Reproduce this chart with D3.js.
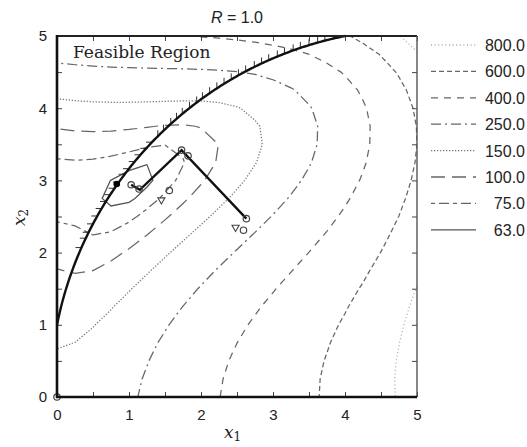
<!DOCTYPE html>
<html>
<head>
<meta charset="utf-8">
<script src="https://cdn.jsdelivr.net/npm/d3@7"></script>
<style>
  body { margin: 0; background: #fff; }
  text { font-family: "Liberation Sans", Arial, sans-serif; fill: #222; }
</style>
</head>
<body>
<div id="chart"></div>
<script>
// contour levels, top to bottom as in the legend
var levels = [800, 600, 400, 250, 150, 100, 75, 63]
var levelLabels = ["800.0", "600.0", "400.0", "250.0", "150.0", "100.0", "75.0", "63.0"]

// penalty parameter and the constraint (x1 - 5)^2 + x2^2 >= 26
var R = 1.0
var circleCx = 5
var circleR2 = 26

// search path
var pathX1 = [2.63, 1.73, 1.15, 1.03]
var pathX2 = [2.47, 3.42, 2.87, 2.94]

// open circle markers
var circX1 = [2.63, 2.59, 1.73, 1.82, 1.03, 1.14, 1.56, 0]
var circX2 = [2.47, 2.31, 3.42, 3.34, 2.94, 2.88, 2.86, 0]

// small triangle markers
var triX1 = [2.48, 1.45]
var triX2 = [2.35, 2.73]

// constrained optimum (filled)
var optX1 = [0.83]
var optX2 = [2.95]

var tickValues = [0, 1, 2, 3, 4, 5]

// line styles per level (same order as levels)
var levelDash = ["1,2.6", "5,3", "7,6", "10,4,2,4", "1.3,1.7", "14,7", "4,4,10,4", null]
var levelColor = ["#a8a8a8", "#666", "#666", "#666", "#777", "#666", "#666", "#555"]

var svgWidth = 527
var svgHeight = 447
var margin = { top: 36, left: 57 }
var width = 360
var height = 361

var svg = d3.select("#chart")
  .append("svg")
  .attr("width", svgWidth)
  .attr("height", svgHeight)

var x = d3.scaleLinear().domain([0, 5]).range([margin.left, margin.left + width])
var y = d3.scaleLinear().domain([0, 5]).range([margin.top + height, margin.top])

svg.append("clipPath").attr("id", "plotClip")
  .append("rect")
  .attr("x", margin.left).attr("y", margin.top)
  .attr("width", width).attr("height", height)

// penalized Himmelblau function with bracket operator
function penalty(x1, x2) {
  var f = Math.pow(x1 * x1 + x2 - 11, 2) + Math.pow(x1 + x2 * x2 - 7, 2)
  var g = (x1 - circleCx) * (x1 - circleCx) + x2 * x2 - circleR2
  return f + (g < 0 ? R * g * g : 0)
}

// sample grid a bit wider than the plot so ring borders get clipped away
var step = 0.25
var g0 = -0.5
var n = 25
var values = []
for (var j = 0; j < n; j++) {
  for (var i = 0; i < n; i++) {
    values.push(penalty(g0 + i * step, g0 + j * step))
  }
}

var contours = d3.contours().size([n, n]).thresholds(levels)(values)

var ringLine = d3.line()
  .x(c => x(g0 + (c[0] - 0.5) * step))
  .y(c => y(g0 + (c[1] - 0.5) * step))

var contourGroup = svg.append("g").attr("clip-path", "url(#plotClip)")

contours.forEach(function(c) {
  var k = levels.indexOf(c.value)
  c.coordinates.forEach(function(poly) {
    poly.forEach(function(ring) {
      contourGroup.append("path")
        .attr("d", ringLine(ring))
        .attr("fill", "none")
        .attr("stroke", levelColor[k])
        .attr("stroke-width", 1.25)
        .attr("stroke-dasharray", levelDash[k])
    })
  })
})

// constraint boundary
var bound = d3.range(0, 4.0001, 0.02).map(function(t) {
  return [t, Math.sqrt(circleR2 - (t - circleCx) * (t - circleCx))]
})

// hatch marks on the feasible side
var pix = bound.map(p => [x(p[0]), y(p[1])])
var hatch = []
var acc = 0
var next = 4
for (var k = pix.length - 1; k > 0; k--) {
  var dx = pix[k][0] - pix[k - 1][0]
  var dy = pix[k][1] - pix[k - 1][1]
  acc += Math.sqrt(dx * dx + dy * dy)
  if (acc >= next && bound[k][1] > 2.0) {
    var slope = (circleCx - bound[k][0]) / bound[k][1]
    hatch.push({ px: pix[k][0], py: pix[k][1], vertical: slope < 1 })
    next += 8.5
  }
}

svg.append("g")
  .selectAll("line")
  .data(hatch)
  .enter()
  .append("line")
  .attr("x1", d => d.px)
  .attr("y1", d => d.py)
  .attr("x2", d => d.vertical ? d.px : d.px - 6)
  .attr("y2", d => d.vertical ? Math.max(d.py - 6, margin.top + 1) : d.py)
  .attr("stroke", "#333")
  .attr("stroke-width", 1)

svg.append("path")
  .attr("d", d3.line().x(p => x(p[0])).y(p => y(p[1]))(bound))
  .attr("fill", "none")
  .attr("stroke", "#111")
  .attr("stroke-width", 2.4)

// search path
var pathPts = pathX1.map((v, i) => [v, pathX2[i]])
svg.append("path")
  .attr("d", d3.line().x(p => x(p[0])).y(p => y(p[1]))(pathPts))
  .attr("fill", "none")
  .attr("stroke", "#111")
  .attr("stroke-width", 2.4)

svg.append("g")
  .selectAll("circle")
  .data(circX1.map((v, i) => [v, circX2[i]]))
  .enter()
  .append("circle")
  .attr("cx", d => x(d[0]))
  .attr("cy", d => y(d[1]))
  .attr("r", 3.2)
  .attr("fill", "none")
  .attr("stroke", "#444")
  .attr("stroke-width", 1.2)

var tri = d3.symbol().type(d3.symbolTriangle).size(22)
svg.append("g")
  .selectAll("path")
  .data(triX1.map((v, i) => [v, triX2[i]]))
  .enter()
  .append("path")
  .attr("d", tri)
  .attr("transform", d => `translate(${x(d[0])}, ${y(d[1])}) rotate(180)`)
  .attr("fill", "none")
  .attr("stroke", "#444")
  .attr("stroke-width", 1.1)

svg.append("g")
  .selectAll("circle")
  .data(optX1.map((v, i) => [v, optX2[i]]))
  .enter()
  .append("circle")
  .attr("cx", d => x(d[0]))
  .attr("cy", d => y(d[1]))
  .attr("r", 3.3)
  .attr("fill", "#000")

// axes, ticks pointing inward
var halfTicks = d3.range(0, 5.01, 0.5)
function fmt(d) { return d % 1 === 0 ? d : "" }

var bottomAxis = svg.append("g")
  .attr("transform", `translate(0, ${margin.top + height})`)
  .call(d3.axisBottom(x).tickValues(halfTicks).tickSize(-5).tickPadding(12).tickFormat(fmt))
var leftAxis = svg.append("g")
  .attr("transform", `translate(${margin.left}, 0)`)
  .call(d3.axisLeft(y).tickValues(halfTicks).tickSize(-5).tickPadding(10).tickFormat(fmt))
var topAxis = svg.append("g")
  .attr("transform", `translate(0, ${margin.top})`)
  .call(d3.axisTop(x).tickValues(halfTicks).tickSize(-5).tickFormat(""))
var rightAxis = svg.append("g")
  .attr("transform", `translate(${margin.left + width}, 0)`)
  .call(d3.axisRight(y).tickValues(halfTicks).tickSize(-5).tickFormat(""))

svg.selectAll(".domain").remove()
svg.selectAll(".tick line").attr("stroke", "#444")
svg.selectAll(".tick text")
  .style("font-family", "'Liberation Sans', Arial, sans-serif")
  .style("font-size", "15px")
  .attr("fill", "#333")

// frame
var L = margin.left, T = margin.top, Rr = margin.left + width, B = margin.top + height
svg.append("line").attr("x1", L).attr("x2", Rr).attr("y1", T).attr("y2", T)
  .attr("stroke", "#222").attr("stroke-width", 2)
svg.append("line").attr("x1", Rr).attr("x2", Rr).attr("y1", T).attr("y2", B)
  .attr("stroke", "#555").attr("stroke-width", 1.4)
svg.append("line").attr("x1", L).attr("x2", L).attr("y1", T - 1).attr("y2", B + 1)
  .attr("stroke", "#111").attr("stroke-width", 2.6)
svg.append("line").attr("x1", L - 1).attr("x2", Rr).attr("y1", B).attr("y2", B)
  .attr("stroke", "#111").attr("stroke-width", 2.6)

// title
var title = svg.append("text")
  .attr("x", 237)
  .attr("y", 23)
  .attr("text-anchor", "middle")
  .style("font-size", "16px")
title.append("tspan").style("font-style", "italic").text("R")
title.append("tspan").text(" = 1.0")

svg.append("text")
  .attr("x", 73)
  .attr("y", 58)
  .style("font-family", "'DejaVu Serif', serif")
  .style("font-size", "17px")
  .attr("fill", "#333")
  .text("Feasible Region")

// axis titles
var xl = svg.append("text")
  .attr("x", 224)
  .attr("y", 438)
  .style("font-family", "'DejaVu Serif', serif")
  .style("font-size", "17px")
xl.append("tspan").style("font-style", "italic").text("x")
xl.append("tspan").attr("dy", 3).style("font-size", "12px").text("1")

var yl = svg.append("text")
  .attr("transform", "translate(25, 226) rotate(-90)")
  .style("font-family", "'DejaVu Serif', serif")
  .style("font-size", "17px")
yl.append("tspan").style("font-style", "italic").text("x")
yl.append("tspan").attr("dy", 3).style("font-size", "12px").text("2")

// legend
var legend = svg.append("g")
levels.forEach(function(v, i) {
  var ly = 45 + i * 26.4
  legend.append("line")
    .attr("x1", 431).attr("x2", 476)
    .attr("y1", ly).attr("y2", ly)
    .attr("stroke", levelColor[i])
    .attr("stroke-width", 1.3)
    .attr("stroke-dasharray", levelDash[i])
  legend.append("text")
    .attr("x", 525)
    .attr("y", ly + 6)
    .attr("text-anchor", "end")
    .style("font-size", "16px")
    .attr("fill", "#333")
    .text(levelLabels[i])
})
</script>
</body>
</html>
